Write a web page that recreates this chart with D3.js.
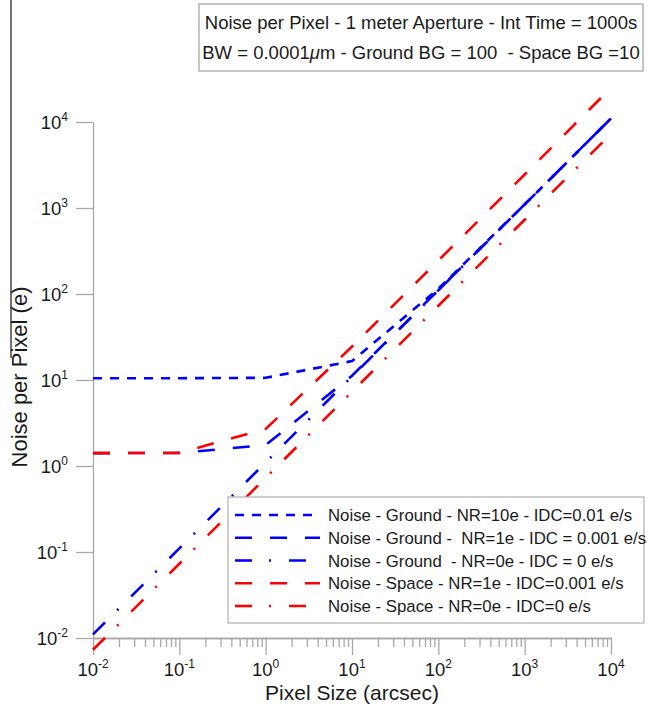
<!DOCTYPE html>
<html>
<head>
<meta charset="utf-8">
<script src="https://cdn.jsdelivr.net/npm/d3@7"></script>
<style>
body { margin: 0; background: #fff; }
text { font-family: "Liberation Sans", Arial, sans-serif; fill: #1a1a1a; }
</style>
</head>
<body>
<svg id="chart" width="651" height="714"></svg>
<script>
/* values, one point per decade */
const pixelSizes = [0.01, 0.1, 1, 10, 100, 1000, 10000];
const groundNR10 = [10.5, 10.5, 10.6, 16.6, 115, 1100, 11000];
const groundNR1  = [1.41, 1.42, 1.75, 11.2, 111, 1100, 11000];
const groundNR0  = [0.011, 0.11, 1.1, 11, 110, 1100, 11000];
const spaceNR1   = [1.41, 1.42, 2.7, 24.5, 245, 2450, 25000];
const spaceNR0   = [0.0073, 0.073, 0.73, 7.3, 73, 730, 7300];

const seriesNames = [
    "Noise - Ground - NR=10e - IDC=0.01 e/s",
    "Noise - Ground -  NR=1e - IDC = 0.001 e/s",
    "Noise - Ground  - NR=0e - IDC = 0 e/s",
    "Noise - Space - NR=1e - IDC=0.001 e/s",
    "Noise - Space - NR=0e - IDC=0 e/s"
];
const decades = [-2, -1, 0, 1, 2, 3, 4];

const titleLines = [
    "Noise per Pixel - 1 meter Aperture - Int Time = 1000s",
    "BW = 0.0001|m - Ground BG = 100  - Space BG =10"
];

/*line look for each series, same order as names*/
const styles = [
    {color: "#0000ff", dash: "9,8"},
    {color: "#0000ff", dash: "17,18"},
    {color: "#0000ff", dash: "17,17,2,18"},
    {color: "#ff0000", dash: "17,18"},
    {color: "#ff0000", dash: "17,17,2,18"}
];
const seriesValues = [groundNR10, groundNR1, groundNR0, spaceNR1, spaceNR0];

const svg = d3.select("#chart");

const x = d3.scaleLog().domain([0.01, 10000]).range([93, 611]);
const y = d3.scaleLog().domain([0.01, 10000]).range([638, 122]);

const majorTicks = decades.map(e => Math.pow(10, e));
const minorTicks = [];
decades.slice(0, -1).forEach(e => {
    for (let k = 2; k <= 9; k++) minorTicks.push(k * Math.pow(10, e));
});

/*stray border line at the left edge of the picture*/
svg.append("line")
    .attr("x1", 11).attr("x2", 11)
    .attr("y1", 0).attr("y2", 358)
    .style("stroke", "#444")
    .style("stroke-width", 1.5);

/*axes: ticks drawn by d3, labels added after*/
const axisColor = "#a8a8a8";

const xMinor = svg.append("g")
    .attr("transform", "translate(0,638)")
    .call(d3.axisBottom(x).tickValues(minorTicks).tickSize(9).tickSizeOuter(0).tickFormat(""));
const xMajor = svg.append("g")
    .attr("transform", "translate(0,638)")
    .call(d3.axisBottom(x).tickValues(majorTicks).tickSize(17).tickSizeOuter(0).tickFormat(""));
const yAxis = svg.append("g")
    .attr("transform", "translate(93,0)")
    .call(d3.axisLeft(y).tickValues(majorTicks).tickSize(17).tickSizeOuter(0).tickFormat(""));

[xMinor, xMajor, yAxis].forEach(g => {
    g.selectAll("path, line").style("stroke", axisColor).style("stroke-width", 1.3);
});

/*tick labels as 10 with superscript*/
function powerLabel(sel) {
    sel.append("tspan").text("10");
    sel.append("tspan")
        .attr("dy", -8)
        .style("font-size", "12px")
        .text(d => d);
}

svg.append("g").selectAll("text")
    .data(decades)
    .enter()
    .append("text")
    .attr("x", d => x(Math.pow(10, d)))
    .attr("y", 676)
    .attr("text-anchor", "middle")
    .style("font-size", "18.5px")
    .call(powerLabel);

svg.append("g").selectAll("text")
    .data(decades)
    .enter()
    .append("text")
    .attr("x", 68)
    .attr("y", d => y(Math.pow(10, d)) + 7)
    .attr("text-anchor", "end")
    .style("font-size", "18.5px")
    .call(powerLabel);

/*axis titles*/
svg.append("text")
    .attr("x", 352)
    .attr("y", 700)
    .attr("text-anchor", "middle")
    .style("font-size", "21px")
    .text("Pixel Size (arcsec)");

svg.append("text")
    .attr("transform", "translate(27,377) rotate(-90)")
    .attr("text-anchor", "middle")
    .style("font-size", "22px")
    .text("Noise per Pixel (e)");

/*curves*/
const line = d3.line()
    .x(d => x(d[0]))
    .y(d => y(d[1]));

svg.append("g").selectAll("path")
    .data(seriesValues)
    .enter()
    .append("path")
    .attr("d", vals => line(pixelSizes.map((p, i) => [p, vals[i]])))
    .style("fill", "none")
    .style("stroke", (d, i) => styles[i].color)
    .style("stroke-width", 2.6)
    .style("stroke-dasharray", (d, i) => styles[i].dash);

/*legend*/
const legend = svg.append("g").attr("id", "legend");
legend.append("rect")
    .attr("x", 228).attr("y", 497)
    .attr("width", 416).attr("height", 126)
    .style("fill", "#fff")
    .style("stroke", "#b0b0b0")
    .style("stroke-width", 1.2);

const rowY = i => 515 + i * 22.75;

legend.selectAll("line")
    .data(seriesNames)
    .enter()
    .append("line")
    .attr("x1", 235).attr("x2", 320)
    .attr("y1", (d, i) => rowY(i)).attr("y2", (d, i) => rowY(i))
    .style("stroke", (d, i) => styles[i].color)
    .style("stroke-width", 2.6)
    .style("stroke-dasharray", (d, i) => styles[i].dash);

legend.selectAll("text")
    .data(seriesNames)
    .enter()
    .append("text")
    .attr("x", 328)
    .attr("y", (d, i) => rowY(i) + 6)
    .style("font-size", "16.8px")
    .style("white-space", "pre")
    .text(d => d);

/*title box*/
svg.append("rect")
    .attr("x", 199).attr("y", 4)
    .attr("width", 444).attr("height", 67)
    .style("fill", "#fff")
    .style("stroke", "#a0a0a0")
    .style("stroke-width", 1.2);

const title = svg.append("text")
    .attr("text-anchor", "middle")
    .style("font-size", "18.5px")
    .style("white-space", "pre");

title.append("tspan").attr("x", 421).attr("y", 29).text(titleLines[0]);

/*second line has an italic mu in it*/
const parts = titleLines[1].split("|");
const second = title.append("tspan").attr("x", 421).attr("y", 59);
second.append("tspan").text(parts[0]);
second.append("tspan").style("font-style", "italic").text("\u03bc");
second.append("tspan").text(parts[1]);
</script>
</body>
</html>
